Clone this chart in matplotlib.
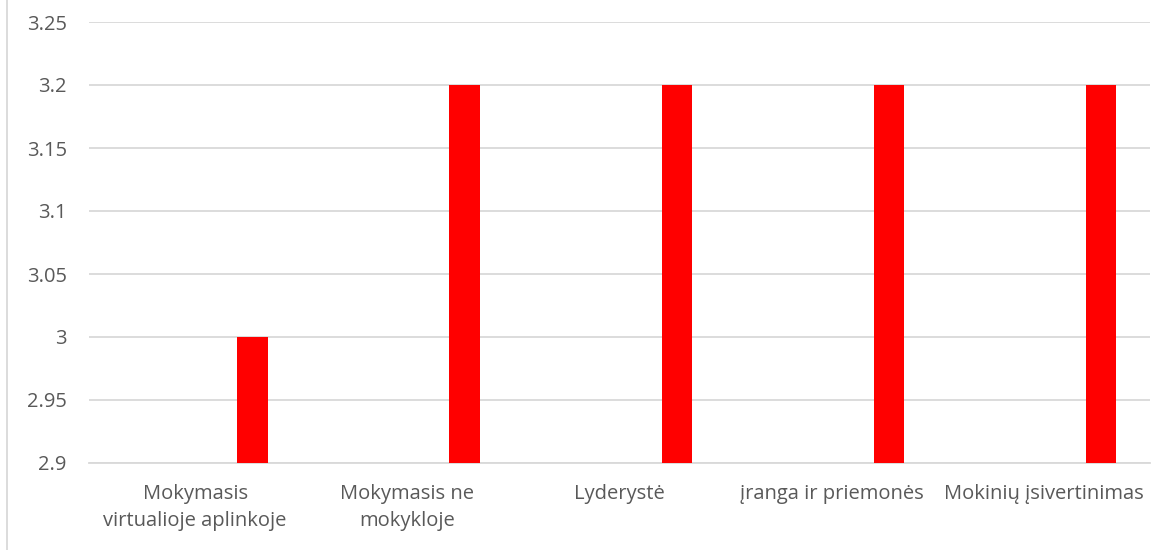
import numpy as np
import matplotlib.pyplot as plt
from matplotlib.lines import Line2D

categories = ["Mokymasis\nvirtualioje aplinkoje", "Mokymasis ne\nmokykloje", "Lyderystė",
              "įranga ir priemonės", "Mokinių įsivertinimas"]
values = [3.0, 3.2, 3.2, 3.2, 3.2]
y_ticks = [2.9, 2.95, 3.0, 3.05, 3.1, 3.15, 3.2, 3.25]
y_tick_labels = ["2.9", "2.95", "3", "3.05", "3.1", "3.15", "3.2", "3.25"]

plt.rcParams['font.family'] = ['Open Sans', 'DejaVu Sans']
text_color = '#595959'
grid_color = '#d9d9d9'

fig = plt.figure(figsize=(11.53, 5.5), dpi=100)
ax = fig.add_axes([89 / 1153, 1 - 463 / 550, 1061 / 1153, 441 / 550])

x = np.arange(len(categories))
ax.bar(x + 0.27, values, width=0.143, color='#ff0000', zorder=3)

ax.set_xlim(-0.5, len(categories) - 0.5)
ax.set_ylim(2.9, 3.25)
ax.set_yticks(y_ticks)
ax.set_yticklabels(y_tick_labels)
ax.set_xticks(x)
ax.set_xticklabels(categories, linespacing=1.45)

ax.yaxis.grid(True, color=grid_color, linewidth=1.3, zorder=0)
for side in ['top', 'right', 'left']:
    ax.spines[side].set_visible(False)
ax.spines['bottom'].set_color(grid_color)
ax.spines['bottom'].set_linewidth(1.3)
ax.tick_params(axis='both', length=0, labelsize=14.5, colors=text_color)
ax.tick_params(axis='y', pad=16)
ax.tick_params(axis='x', pad=15)

# outer chart frame edge on the left
fig.add_artist(Line2D([7 / 1153, 7 / 1153], [0, 1], color=grid_color, linewidth=1.3,
                      transform=fig.transFigure))

fig.savefig('out.png', dpi=100, facecolor='white')
